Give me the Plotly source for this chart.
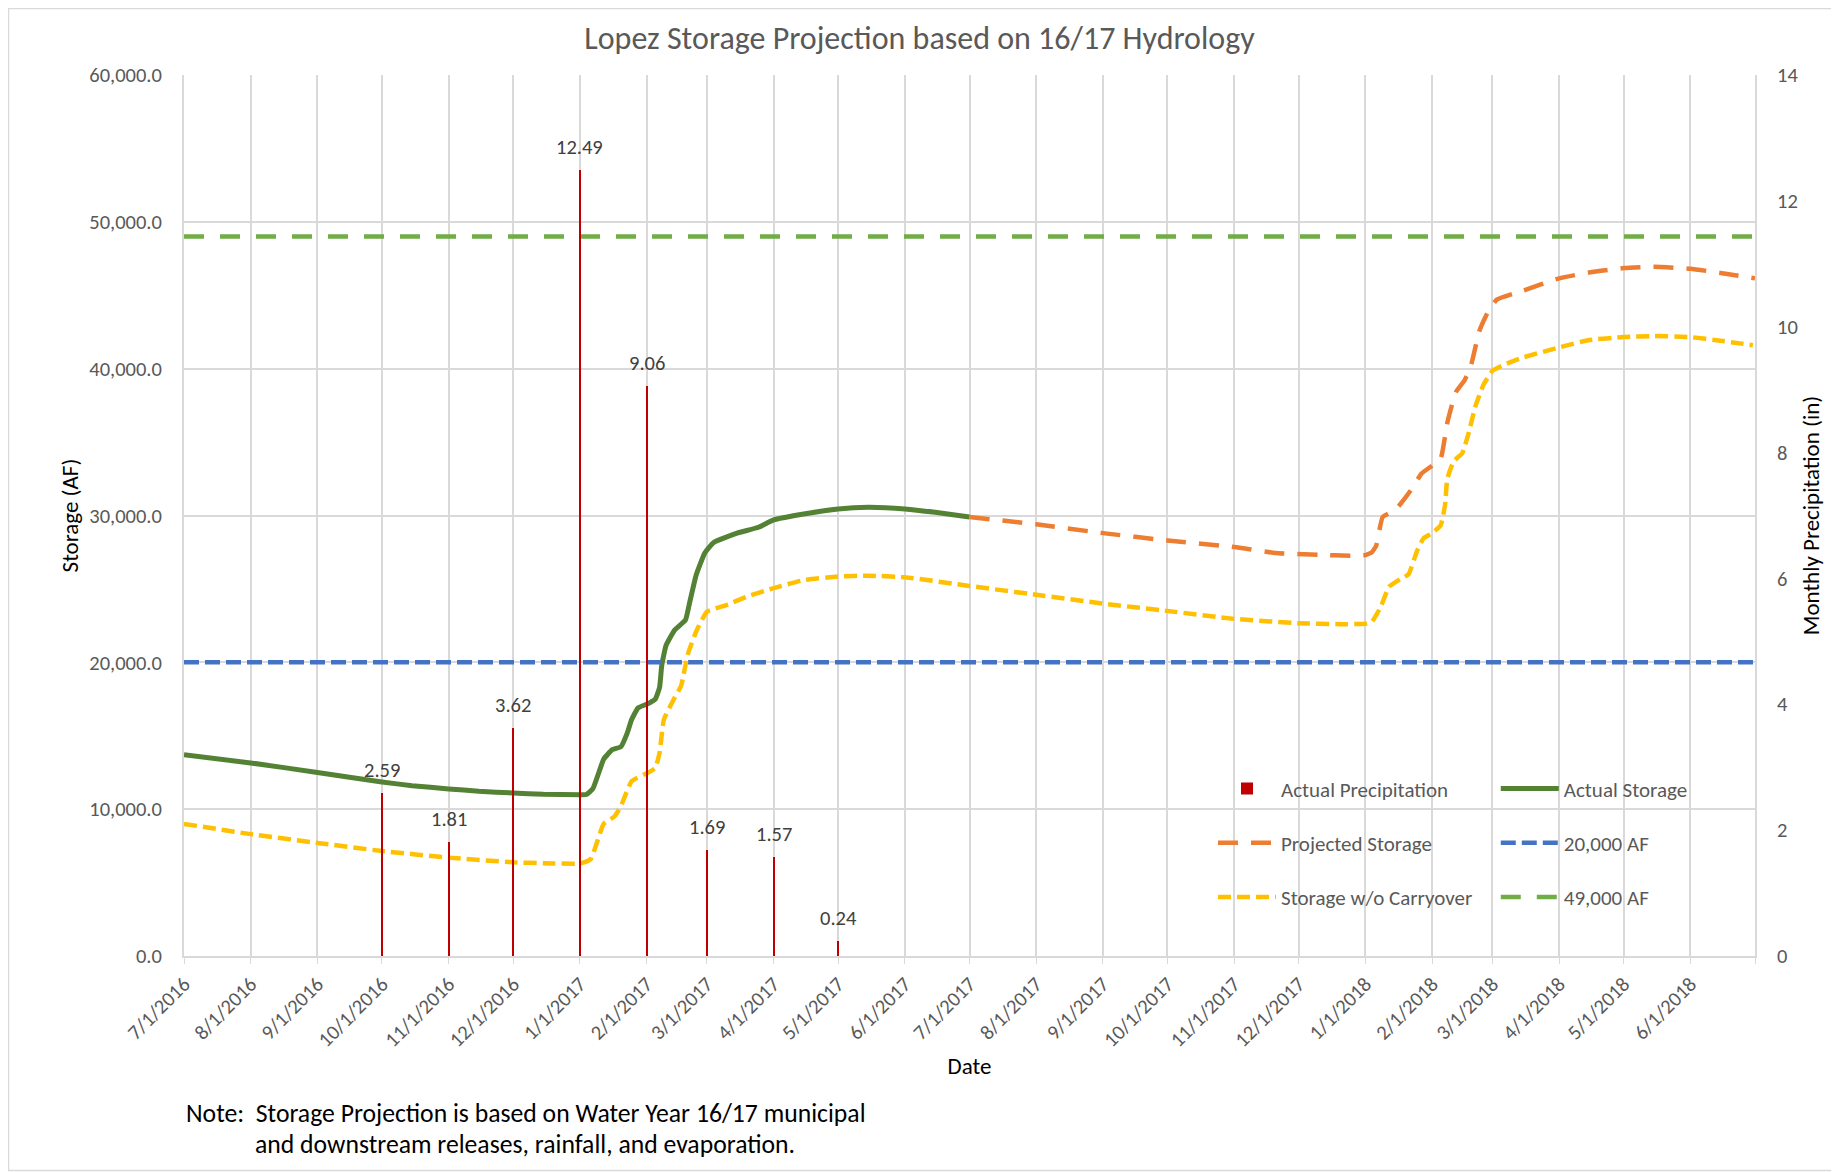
import plotly.graph_objects as go

# ---------------- data ----------------
precip_dates = ["2016-10-01", "2016-11-01", "2016-12-01", "2017-01-01",
                "2017-02-01", "2017-03-01", "2017-04-01", "2017-05-01"]
precip_values = [2.59, 1.81, 3.62, 12.49, 9.06, 1.69, 1.57, 0.24]

actual_dates = ["2016-07-01", "2016-08-01", "2016-09-01", "2016-10-01", "2016-10-15",
                "2016-11-01", "2016-11-15", "2016-12-01", "2016-12-15", "2017-01-01",
                "2017-01-04", "2017-01-07", "2017-01-10", "2017-01-12", "2017-01-16",
                "2017-01-20", "2017-01-23", "2017-01-25", "2017-01-28", "2017-02-01",
                "2017-02-05", "2017-02-07", "2017-02-08", "2017-02-10", "2017-02-14",
                "2017-02-19", "2017-02-21", "2017-02-24", "2017-02-28", "2017-03-04",
                "2017-03-15", "2017-03-25", "2017-04-01", "2017-04-15", "2017-05-01",
                "2017-05-15", "2017-06-01", "2017-06-15", "2017-07-01"]
actual_storage = [13700, 13150, 12500, 11850, 11600,
                  11380, 11220, 11100, 11020, 10990,
                  11000, 11400, 12600, 13400, 14050,
                  14250, 15200, 16100, 16900, 17150,
                  17500, 18300, 19800, 21150, 22200,
                  22880, 24100, 25950, 27450, 28150,
                  28800, 29200, 29700, 30100, 30450,
                  30560, 30450, 30220, 29900]

proj_dates = ["2017-07-01", "2017-08-01", "2017-09-01", "2017-10-01", "2017-11-01",
              "2017-11-20", "2017-12-10", "2017-12-25", "2018-01-01", "2018-01-04",
              "2018-01-06", "2018-01-09", "2018-01-15", "2018-01-22", "2018-01-27",
              "2018-02-01", "2018-02-05", "2018-02-08", "2018-02-12", "2018-02-16",
              "2018-02-19", "2018-02-23", "2018-02-27", "2018-03-03", "2018-03-15",
              "2018-04-01", "2018-04-15", "2018-05-01", "2018-05-15", "2018-06-01",
              "2018-06-15", "2018-07-01"]
proj_storage = [29900, 29400, 28800, 28300, 27850,
                27450, 27320, 27260, 27300, 27500,
                27950, 29900, 30400, 31700, 32850,
                33400, 33900, 36300, 38400, 39200,
                40200, 42600, 43900, 44700, 45300,
                46150, 46550, 46850, 46940, 46800,
                46520, 46150]

nocarry_dates = ["2016-07-01", "2016-08-01", "2016-09-01", "2016-10-01", "2016-11-01",
                 "2016-12-01", "2016-12-15", "2017-01-01", "2017-01-06", "2017-01-12",
                 "2017-01-17", "2017-01-20", "2017-01-25", "2017-02-01", "2017-02-05",
                 "2017-02-07", "2017-02-09", "2017-02-14", "2017-02-17", "2017-02-20",
                 "2017-02-24", "2017-03-01", "2017-03-10", "2017-03-20", "2017-04-01",
                 "2017-04-15", "2017-05-01", "2017-05-15", "2017-06-01", "2017-07-01",
                 "2017-08-01", "2017-09-01", "2017-10-01", "2017-11-01", "2017-12-01",
                 "2017-12-20", "2018-01-01", "2018-01-04", "2018-01-08", "2018-01-12",
                 "2018-01-17", "2018-01-21", "2018-01-25", "2018-01-28", "2018-02-01",
                 "2018-02-05", "2018-02-07", "2018-02-08", "2018-02-11", "2018-02-15",
                 "2018-02-18", "2018-02-21", "2018-02-25", "2018-03-01", "2018-03-07",
                 "2018-03-15", "2018-04-01", "2018-04-15", "2018-05-01", "2018-05-15",
                 "2018-06-01", "2018-06-15", "2018-06-30"]
nocarry_storage = [9000, 8300, 7700, 7150, 6700,
                   6380, 6320, 6300, 6600, 9000,
                   9500, 10200, 11900, 12450, 12800,
                   13850, 16100, 17600, 18400, 20500,
                   22100, 23450, 23900, 24500, 25050,
                   25600, 25850, 25900, 25800, 25200,
                   24600, 24000, 23500, 22960, 22660,
                   22600, 22630, 22770, 23750, 25150,
                   25650, 26000, 27600, 28450, 28800,
                   29350, 30750, 32500, 33700, 34250,
                   35650, 37400, 38950, 39850, 40300,
                   40750, 41450, 41950, 42150, 42220,
                   42150, 41900, 41600]

ref_dates = ["2016-07-01", "2018-07-01"]
ref_20000 = [20000, 20000]
ref_49000 = [49000, 49000]

tick_dates = ["2016-07-01", "2016-08-01", "2016-09-01", "2016-10-01", "2016-11-01",
              "2016-12-01", "2017-01-01", "2017-02-01", "2017-03-01", "2017-04-01",
              "2017-05-01", "2017-06-01", "2017-07-01", "2017-08-01", "2017-09-01",
              "2017-10-01", "2017-11-01", "2017-12-01", "2018-01-01", "2018-02-01",
              "2018-03-01", "2018-04-01", "2018-05-01", "2018-06-01", "2018-07-01"]
tick_labels = ["7/1/2016", "8/1/2016", "9/1/2016", "10/1/2016", "11/1/2016",
               "12/1/2016", "1/1/2017", "2/1/2017", "3/1/2017", "4/1/2017",
               "5/1/2017", "6/1/2017", "7/1/2017", "8/1/2017", "9/1/2017",
               "10/1/2017", "11/1/2017", "12/1/2017", "1/1/2018", "2/1/2018",
               "3/1/2018", "4/1/2018", "5/1/2018", "6/1/2018", ""]

storage_ticks = [0, 10000, 20000, 30000, 40000, 50000, 60000]
precip_ticks = [0, 2, 4, 6, 8, 10, 12, 14]

# ---------------- figure ----------------
FONT = "Carlito, Lato, sans-serif"
GRAY = "#595959"
GRID = "#D9D9D9"
DAY_MS = 86400000

# page body has an 8px margin: figure placed at (8, 8)
W, H = 1831, 1164
ML, MR, MT, MB = 176, 84, 67, 216
pw, ph = W - ML - MR, H - MT - MB

fig = go.Figure()

fig.add_trace(go.Scatter(
    x=actual_dates, y=actual_storage, name="Actual Storage", mode="lines",
    line=dict(color="#548235", width=5, shape="spline", smoothing=0.4),
    legend="legend2", legendgroup="a2"))
fig.add_trace(go.Scatter(
    x=proj_dates, y=proj_storage, name="Projected Storage", mode="lines",
    line=dict(color="#ED7D31", width=4.5, dash="20px,13px", shape="spline", smoothing=0.4),
    legend="legend", legendgroup="b1"))
fig.add_trace(go.Scatter(
    x=ref_dates, y=ref_20000, name="20,000 AF", mode="lines",
    line=dict(color="#4472C4", width=4.5, dash="15px,6px"),
    legend="legend2", legendgroup="b2"))
fig.add_trace(go.Scatter(
    x=nocarry_dates, y=nocarry_storage, name="Storage w/o Carryover", mode="lines",
    line=dict(color="#FFC000", width=4.5, dash="13px,6px", shape="spline", smoothing=0.4),
    legend="legend", legendgroup="c1"))
fig.add_trace(go.Scatter(
    x=ref_dates, y=ref_49000, name="49,000 AF", mode="lines",
    line=dict(color="#70AD47", width=4.5, dash="20px,16px"),
    legend="legend2", legendgroup="c2"))
fig.add_trace(go.Bar(
    x=precip_dates, y=precip_values, name="Actual Precipitation", yaxis="y2",
    width=[1.0 * DAY_MS] * len(precip_dates),
    marker=dict(color="#C00000", line=dict(width=0)),
    legend="legend", legendgroup="a1", legendrank=1))

# data labels above each precipitation bar
for d, v in zip(precip_dates, precip_values):
    fig.add_annotation(x=d, y=v, xref="x", yref="y2", text=f"{v:.2f}",
                       showarrow=False, yanchor="middle", yshift=23,
                       font=dict(family=FONT, size=20.5, color="#404040"))

fig.update_layout(
    width=W, height=H,
    margin=dict(l=ML, r=MR, t=MT, b=MB),
    paper_bgcolor="white", plot_bgcolor="white",
    font=dict(family=FONT, size=21, color=GRAY),
    title=dict(text="Lopez Storage Projection based on 16/17 Hydrology",
               x=(919.5 - 8) / W, xanchor="center", y=1 - 30 / H, yanchor="middle",
               font=dict(family=FONT, size=32, color=GRAY)),
    showlegend=True,
    bargap=0,
    xaxis=dict(type="date", range=["2016-07-01", "2018-07-01"],
               tickmode="array", tickvals=tick_dates, ticktext=tick_labels,
               tickangle=-45, showgrid=True, gridcolor=GRID, gridwidth=1.5,
               showline=True, linecolor=GRID, linewidth=2,
               ticks="outside", ticklen=6, tickcolor=GRID,
               tickfont=dict(family=FONT, size=20.5, color=GRAY),
               zeroline=False,
               title=dict(text="Date", standoff=6,
                          font=dict(family=FONT, size=23, color="black"))),
    yaxis=dict(range=[0, 60000], tickmode="array", tickvals=storage_ticks,
               tickformat=",.1f", showgrid=True, gridcolor=GRID, gridwidth=1.5,
               showline=True, linecolor=GRID, linewidth=2, zeroline=False,
               ticklabelstandoff=16,
               tickfont=dict(family=FONT, size=20.5, color=GRAY),
               title=dict(text="Storage (AF)", standoff=4,
                          font=dict(family=FONT, size=23, color="black"))),
    yaxis2=dict(range=[0, 14], tickmode="array", tickvals=precip_ticks,
                overlaying="y", side="right", showgrid=False, zeroline=False,
                showline=True, linecolor=GRID, linewidth=2,
                ticklabelstandoff=16,
                tickfont=dict(family=FONT, size=20.5, color=GRAY),
                title=dict(text="Monthly Precipitation (in)", standoff=5,
                           font=dict(family=FONT, size=23, color="black"))),
    legend=dict(x=0.655, y=0.213, xanchor="left", yanchor="top",
                orientation="v", bgcolor="rgba(0,0,0,0)", itemwidth=58,
                tracegroupgap=24, traceorder="grouped",
                font=dict(family=FONT, size=21, color=GRAY)),
    legend2=dict(x=0.835, y=0.213, xanchor="left", yanchor="top",
                 orientation="v", bgcolor="rgba(0,0,0,0)", itemwidth=58,
                 tracegroupgap=24, traceorder="grouped",
                 font=dict(family=FONT, size=21, color=GRAY)),
)

# outer chart border
fig.add_shape(type="rect", xref="paper", yref="paper",
              x0=-(ML - 0.5) / pw, x1=1 + (MR - 1.5) / pw,
              y0=-(MB - 1.5) / ph, y1=1 + (MT - 0.5) / ph,
              line=dict(color=GRID, width=1.5), fillcolor="rgba(0,0,0,0)", layer="below")

# note (target page y: 1114 and 1145; page x: 184 and 253)
fig.add_annotation(xref="paper", yref="paper", x=0, y=(948 - 1105) / ph,
                   xanchor="left", yanchor="middle", showarrow=False,
                   text="Note:  Storage Projection is based on Water Year 16/17 municipal",
                   font=dict(family=FONT, size=25.7, color="black"))
fig.add_annotation(xref="paper", yref="paper", x=(253 - 184) / pw, y=(948 - 1136) / ph,
                   xanchor="left", yanchor="middle", showarrow=False,
                   text="and downstream releases, rainfall, and evaporation.",
                   font=dict(family=FONT, size=25.7, color="black"))

fig.write_html("out.html")
